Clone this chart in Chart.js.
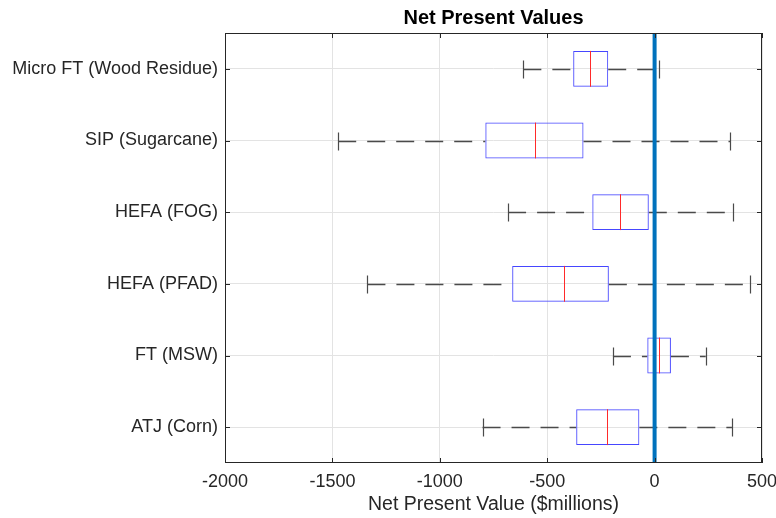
<!DOCTYPE html>
<html>
<head>
<meta charset="utf-8">
<script src="https://cdn.jsdelivr.net/npm/chart.js@4.4.0/dist/chart.umd.min.js"></script>
<style>
html, body { margin: 0; padding: 0; background: #fff; }
#wrap { width: 776px; height: 518px; }
</style>
</head>
<body>
<div id="wrap"><canvas id="npv-chart" width="776" height="518"></canvas></div>
<script>
// boxplot stats ($millions)
const pathways = ['Micro FT (Wood Residue)', 'SIP (Sugarcane)', 'HEFA (FOG)', 'HEFA (PFAD)', 'FT (MSW)', 'ATJ (Corn)'];
const whiskerLow = [-611, -1473, -682, -1337, -194, -801];
const quartile1 = [-379, -788, -290, -663, -34, -365];
const medians = [-302, -555, -162, -420, 19, -223];
const quartile3 = [-216, -331, -27, -213, 76, -71];
const whiskerHigh = [21, 351, 367, 443, 238, 360];
const xTicks = [-2000, -1500, -1000, -500, 0, 500];
const breakEven = 0;

const fontFamily = 'Helvetica, "Liberation Sans", Arial, sans-serif';
const axisColor = '#262626';

document.addEventListener('DOMContentLoaded', function () {
    const ctx = document.getElementById('npv-chart').getContext('2d');

    // whiskers, caps and medians drawn through the chart scales
    const boxExtras = {
        id: 'boxExtras',
        beforeDatasetsDraw(chart) {
            const { ctx, scales: { x, y } } = chart;
            const bars = chart.getDatasetMeta(0).data;
            ctx.save();
            ctx.strokeStyle = '#4a4a4a';
            ctx.lineWidth = 1.5;
            pathways.forEach((_, i) => {
                const cy = Math.round(y.getPixelForValue(i)) + 0.5;
                const capHalf = bars[i].height / 4;
                ctx.setLineDash([18, 11]);
                ctx.beginPath();
                ctx.moveTo(x.getPixelForValue(whiskerLow[i]), cy);
                ctx.lineTo(x.getPixelForValue(quartile1[i]), cy);
                ctx.moveTo(x.getPixelForValue(quartile3[i]), cy);
                ctx.lineTo(x.getPixelForValue(whiskerHigh[i]), cy);
                ctx.stroke();
                ctx.setLineDash([]);
                ctx.lineWidth = 1.2;
                ctx.beginPath();
                [whiskerLow[i], whiskerHigh[i]].forEach(v => {
                    const px = Math.round(x.getPixelForValue(v)) + 0.5;
                    ctx.moveTo(px, cy - capHalf);
                    ctx.lineTo(px, cy + capHalf);
                });
                ctx.stroke();
                ctx.lineWidth = 1.5;
            });
            ctx.restore();
        },
        afterDatasetsDraw(chart) {
            const { ctx, chartArea: a, scales: { x, y } } = chart;
            const bars = chart.getDatasetMeta(0).data;
            ctx.save();
            // medians
            ctx.strokeStyle = '#ff2a2a';
            ctx.lineWidth = 1;
            pathways.forEach((_, i) => {
                const px = Math.round(x.getPixelForValue(medians[i])) + 0.5;
                const half = bars[i].height / 2;
                ctx.beginPath();
                ctx.moveTo(px, bars[i].y - half);
                ctx.lineTo(px, bars[i].y + half);
                ctx.stroke();
            });
            // break-even line
            const zx = x.getPixelForValue(breakEven);
            ctx.strokeStyle = '#0072BD';
            ctx.lineWidth = 4;
            ctx.beginPath();
            ctx.moveTo(zx, a.top);
            ctx.lineTo(zx, a.bottom);
            ctx.stroke();
            // axes box and inward ticks
            ctx.strokeStyle = axisColor;
            ctx.lineWidth = 1;
            ctx.strokeRect(Math.round(a.left) + 0.5, Math.round(a.top) + 0.5,
                Math.round(a.right - a.left) - 1, Math.round(a.bottom - a.top) - 1);
            ctx.beginPath();
            xTicks.forEach(v => {
                const px = Math.round(x.getPixelForValue(v)) + 0.5;
                ctx.moveTo(px, a.top); ctx.lineTo(px, a.top + 5);
                ctx.moveTo(px, a.bottom); ctx.lineTo(px, a.bottom - 5);
            });
            pathways.forEach((_, i) => {
                const py = Math.round(y.getPixelForValue(i)) + 0.5;
                ctx.moveTo(a.left, py); ctx.lineTo(a.left + 5, py);
                ctx.moveTo(a.right, py); ctx.lineTo(a.right - 5, py);
            });
            ctx.stroke();
            // title centred over the axes
            ctx.fillStyle = '#000';
            ctx.font = 'bold 20px ' + fontFamily;
            ctx.textAlign = 'center';
            ctx.textBaseline = 'middle';
            ctx.fillText('Net Present Values', (a.left + a.right) / 2, 18);
            ctx.restore();
        }
    };

    new Chart(ctx, {
        type: 'bar',
        data: {
            labels: pathways,
            datasets: [{
                label: 'Interquartile range',
                data: pathways.map((_, i) => [quartile1[i], quartile3[i]]),
                backgroundColor: 'rgba(255,255,255,0)',
                borderColor: '#4646ff',
                borderWidth: 1,
                borderSkipped: false,
                categoryPercentage: 1,
                barPercentage: 0.5
            }]
        },
        options: {
            indexAxis: 'y',
            responsive: false,
            animation: false,
            layout: { padding: { top: 33, right: 14, left: 0, bottom: 0 } },
            plugins: {
                legend: { display: false },
                tooltip: { enabled: false }
            },
            scales: {
                x: {
                    type: 'linear',
                    min: -2000,
                    max: 500,
                    afterBuildTicks: scale => { scale.ticks = xTicks.map(v => ({ value: v })); },
                    afterFit: scale => {
                        scale.height = 55;
                        scale.paddingLeft = 0;
                        scale.paddingRight = 0;
                    },
                    grid: { color: '#e3e3e3', drawTicks: false },
                    border: { display: false },
                    ticks: {
                        padding: 8,
                        color: axisColor,
                        autoSkip: false,
                        maxRotation: 0,
                        callback: value => String(value),
                        font: { family: fontFamily, size: 18 }
                    },
                    title: {
                        display: true,
                        text: 'Net Present Value ($millions)',
                        color: axisColor,
                        font: { family: fontFamily, size: 19.5 },
                        padding: { top: 0, bottom: 2 }
                    }
                },
                y: {
                    afterFit: scale => { scale.width = 225; },
                    grid: { color: '#e3e3e3', drawTicks: false, offset: false },
                    border: { display: false },
                    ticks: {
                        padding: 7,
                        color: axisColor,
                        font: { family: fontFamily, size: 18 }
                    }
                }
            }
        },
        plugins: [boxExtras]
    });
});
</script>
</body>
</html>
